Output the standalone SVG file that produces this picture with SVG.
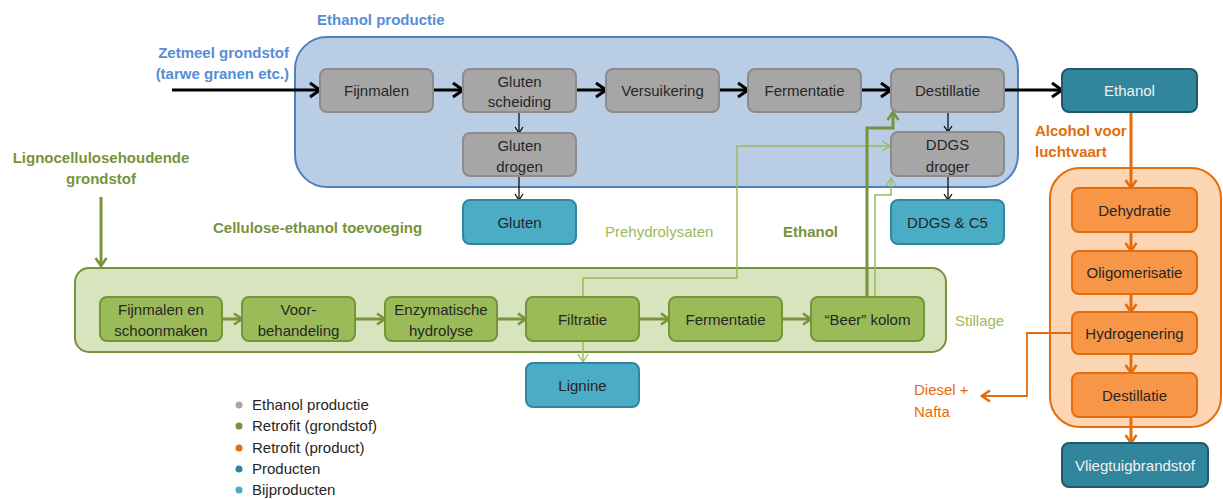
<svg xmlns="http://www.w3.org/2000/svg" width="1223" height="499" viewBox="0 0 1223 499">
<style>
text{font-family:"Liberation Sans",Arial,sans-serif;font-size:15px}
.c{text-anchor:middle}
.dk{fill:#262626}
.wt{fill:#f2f2f2}
.b{font-weight:bold}
.gray{fill:#a6a6a6;stroke:#8c8c8c;stroke-width:2}
.grn{fill:#9bbb59;stroke:#77933c;stroke-width:2}
.org{fill:#f79646;stroke:#e46c0a;stroke-width:2}
.prod{fill:#31859c;stroke:#215968;stroke-width:2}
.byp{fill:#4bacc6;stroke:#31859c;stroke-width:2}
</style>
<defs>
<marker id="ab" viewBox="0 0 14 18" refX="12" refY="9" markerWidth="14" markerHeight="18" markerUnits="userSpaceOnUse" orient="auto"><path d="M2,2 L12,9 L2,16" fill="none" stroke="#000" stroke-width="3"/></marker>
<marker id="at" viewBox="0 0 8 10" refX="7" refY="5" markerWidth="8" markerHeight="10" markerUnits="userSpaceOnUse" orient="auto"><path d="M1,1 L7,5 L1,9" fill="none" stroke="#000" stroke-width="1.2"/></marker>
<marker id="ag" viewBox="0 0 12 14" refX="10" refY="7" markerWidth="12" markerHeight="14" markerUnits="userSpaceOnUse" orient="auto"><path d="M2,1.5 L10,7 L2,12.5" fill="none" stroke="#77933c" stroke-width="2.5"/></marker>
<marker id="agl" viewBox="0 0 10 12" refX="9" refY="6" markerWidth="10" markerHeight="12" markerUnits="userSpaceOnUse" orient="auto"><path d="M1,1 L9,6 L1,11" fill="none" stroke="#9bbb59" stroke-width="1.3"/></marker>
<marker id="ao" viewBox="0 0 12 14" refX="10" refY="7" markerWidth="12" markerHeight="14" markerUnits="userSpaceOnUse" orient="auto"><path d="M2,1.5 L10,7 L2,12.5" fill="none" stroke="#e46c0a" stroke-width="2.5"/></marker>
</defs>

<g id="containers">
<rect x="295" y="37" width="723" height="150" rx="32" fill="#b9cde5" stroke="#4f81bd" stroke-width="2"/>
<rect x="75" y="268" width="871" height="84" rx="14" fill="#d7e4bd" stroke="#77933c" stroke-width="2"/>
<rect x="1050" y="168" width="171" height="259" rx="30" fill="#fcd5b5" stroke="#e46c0a" stroke-width="2"/>
</g>

<g id="labels">
<text x="317" y="25" class="b" fill="#558ed5">Ethanol productie</text>
<text x="289" y="58" class="b" fill="#558ed5" text-anchor="end">Zetmeel grondstof</text>
<text x="289" y="79" class="b" fill="#558ed5" text-anchor="end">(tarwe granen etc.)</text>
<text x="101" y="163" class="b c" fill="#77933c">Lignocellulosehoudende</text>
<text x="101" y="184" class="b c" fill="#77933c">grondstof</text>
<text x="213" y="233" class="b" fill="#77933c">Cellulose-ethanol toevoeging</text>
<text x="605" y="237" fill="#9bbb59">Prehydrolysaten</text>
<text x="783" y="237" class="b" fill="#77933c">Ethanol</text>
<text x="955" y="326" fill="#9bbb59">Stillage</text>
<text x="1035" y="136" class="b" fill="#e46c0a">Alcohol voor</text>
<text x="1035" y="157" class="b" fill="#e46c0a">luchtvaart</text>
<text x="914" y="395" fill="#e46c0a">Diesel +</text>
<text x="914" y="417" fill="#e46c0a">Nafta</text>
</g>

<g id="connectors" fill="none">
<path d="M172,90 H320" stroke="#000" stroke-width="3" marker-end="url(#ab)"/>
<path d="M433,90 H463" stroke="#000" stroke-width="3" marker-end="url(#ab)"/>
<path d="M576,90 H606" stroke="#000" stroke-width="3" marker-end="url(#ab)"/>
<path d="M719,90 H748" stroke="#000" stroke-width="3" marker-end="url(#ab)"/>
<path d="M861,90 H891" stroke="#000" stroke-width="3" marker-end="url(#ab)"/>
<path d="M1004,90 H1062" stroke="#000" stroke-width="3" marker-end="url(#ab)"/>
<path d="M519,112 V133" stroke="#000" stroke-width="1.2" marker-end="url(#at)"/>
<path d="M519,176 V200" stroke="#000" stroke-width="1.2" marker-end="url(#at)"/>
<path d="M948,112 V132" stroke="#000" stroke-width="1.2" marker-end="url(#at)"/>
<path d="M948,176 V200" stroke="#000" stroke-width="1.2" marker-end="url(#at)"/>
<path d="M101,197 V266" stroke="#77933c" stroke-width="3" marker-end="url(#ag)"/>
<path d="M222,319 H242" stroke="#77933c" stroke-width="3" marker-end="url(#ag)"/>
<path d="M355,319 H385" stroke="#77933c" stroke-width="3" marker-end="url(#ag)"/>
<path d="M497,319 H526" stroke="#77933c" stroke-width="3" marker-end="url(#ag)"/>
<path d="M639,319 H669" stroke="#77933c" stroke-width="3" marker-end="url(#ag)"/>
<path d="M782,319 H811" stroke="#77933c" stroke-width="3" marker-end="url(#ag)"/>
<path d="M583,297 V278 H737 V146 H890" stroke="#9bbb59" stroke-width="1.5" marker-end="url(#agl)"/>
<path d="M583,341 V362" stroke="#9bbb59" stroke-width="1.5" marker-end="url(#agl)"/>
<path d="M875,297 V195 H891 V178" stroke="#9bbb59" stroke-width="1.5" marker-end="url(#agl)"/>
<path d="M867,297 V128 H893 V112" stroke="#77933c" stroke-width="3" marker-end="url(#ag)"/>
<path d="M1131,112 V188" stroke="#e46c0a" stroke-width="3" marker-end="url(#ao)"/>
<path d="M1131,232 V251" stroke="#e46c0a" stroke-width="3" marker-end="url(#ao)"/>
<path d="M1131,294 V312" stroke="#e46c0a" stroke-width="3" marker-end="url(#ao)"/>
<path d="M1131,354 V373" stroke="#e46c0a" stroke-width="3" marker-end="url(#ao)"/>
<path d="M1131,417 V443" stroke="#e46c0a" stroke-width="3" marker-end="url(#ao)"/>
<path d="M1072,333 H1027 V396 H982" stroke="#e46c0a" stroke-width="1.8" marker-end="url(#ao)"/>
</g>

<g id="n-fijnmalen"><rect x="320" y="69" width="113" height="43" rx="7" class="gray"/><text x="376.5" y="96" class="c dk">Fijnmalen</text></g>
<g id="n-glutenscheiding"><rect x="463" y="69" width="113" height="43" rx="7" class="gray"/><text x="519.5" y="87" class="c dk">Gluten</text><text x="519.5" y="107" class="c dk">scheiding</text></g>
<g id="n-versuikering"><rect x="606" y="69" width="113" height="43" rx="7" class="gray"/><text x="662.5" y="96" class="c dk">Versuikering</text></g>
<g id="n-fermentatie"><rect x="748" y="69" width="113" height="43" rx="7" class="gray"/><text x="804.5" y="96" class="c dk">Fermentatie</text></g>
<g id="n-destillatie"><rect x="891" y="69" width="113" height="43" rx="7" class="gray"/><text x="947.5" y="96" class="c dk">Destillatie</text></g>
<g id="n-glutendrogen"><rect x="463" y="133" width="113" height="43" rx="7" class="gray"/><text x="519.5" y="151" class="c dk">Gluten</text><text x="519.5" y="172" class="c dk">drogen</text></g>
<g id="n-ddgsdroger"><rect x="891" y="132" width="113" height="44" rx="7" class="gray"/><text x="947.5" y="150" class="c dk">DDGS</text><text x="947.5" y="172" class="c dk">droger</text></g>
<g id="n-gluten"><rect x="463" y="200" width="113" height="44" rx="7" class="byp"/><text x="519.5" y="228" class="c dk">Gluten</text></g>
<g id="n-ddgsc5"><rect x="891" y="200" width="113" height="44" rx="7" class="byp"/><text x="947.5" y="228" class="c dk">DDGS &amp; C5</text></g>
<g id="n-ethanol"><rect x="1062" y="69" width="135" height="43" rx="7" class="prod"/><text x="1129.5" y="96" class="c wt">Ethanol</text></g>

<g id="n-fijnmalenschoon"><rect x="100" y="297" width="122" height="44" rx="7" class="grn"/><text x="161" y="315" class="c dk">Fijnmalen en</text><text x="161" y="336" class="c dk">schoonmaken</text></g>
<g id="n-voorbehandeling"><rect x="242" y="297" width="113" height="44" rx="7" class="grn"/><text x="298.5" y="315" class="c dk">Voor-</text><text x="298.5" y="336" class="c dk">behandeling</text></g>
<g id="n-enzymatische"><rect x="385" y="297" width="112" height="44" rx="7" class="grn"/><text x="441" y="315" class="c dk">Enzymatische</text><text x="441" y="336" class="c dk">hydrolyse</text></g>
<g id="n-filtratie"><rect x="526" y="297" width="113" height="44" rx="7" class="grn"/><text x="582.5" y="325" class="c dk">Filtratie</text></g>
<g id="n-fermentatie2"><rect x="669" y="297" width="113" height="44" rx="7" class="grn"/><text x="725.5" y="325" class="c dk">Fermentatie</text></g>
<g id="n-beerkolom"><rect x="811" y="297" width="113" height="44" rx="7" class="grn"/><text x="867.5" y="325" class="c dk">“Beer” kolom</text></g>
<g id="n-lignine"><rect x="526" y="363" width="113" height="44" rx="7" class="byp"/><text x="582.5" y="391" class="c dk">Lignine</text></g>

<g id="n-dehydratie"><rect x="1072" y="188" width="125" height="44" rx="7" class="org"/><text x="1134.5" y="216" class="c dk">Dehydratie</text></g>
<g id="n-oligomerisatie"><rect x="1072" y="251" width="125" height="43" rx="7" class="org"/><text x="1134.5" y="278" class="c dk">Oligomerisatie</text></g>
<g id="n-hydrogenering"><rect x="1072" y="312" width="125" height="42" rx="7" class="org"/><text x="1134.5" y="339" class="c dk">Hydrogenering</text></g>
<g id="n-destillatie2"><rect x="1072" y="373" width="125" height="44" rx="7" class="org"/><text x="1134.5" y="401" class="c dk">Destillatie</text></g>
<g id="n-vliegtuig"><rect x="1062" y="443" width="146" height="44" rx="7" class="prod"/><text x="1135" y="471" class="c wt">Vliegtuigbrandstof</text></g>

<g id="legend">
<circle cx="239" cy="405" r="3.5" fill="#a6a6a6"/><text x="252" y="410" class="dk">Ethanol productie</text>
<circle cx="239" cy="426" r="3.5" fill="#77933c"/><text x="252" y="431" class="dk">Retrofit (grondstof)</text>
<circle cx="239" cy="448" r="3.5" fill="#e46c0a"/><text x="252" y="453" class="dk">Retrofit (product)</text>
<circle cx="239" cy="469" r="3.5" fill="#31859c"/><text x="252" y="474" class="dk">Producten</text>
<circle cx="239" cy="490" r="3.5" fill="#4bacc6"/><text x="252" y="495" class="dk">Bijproducten</text>
</g>
</svg>
